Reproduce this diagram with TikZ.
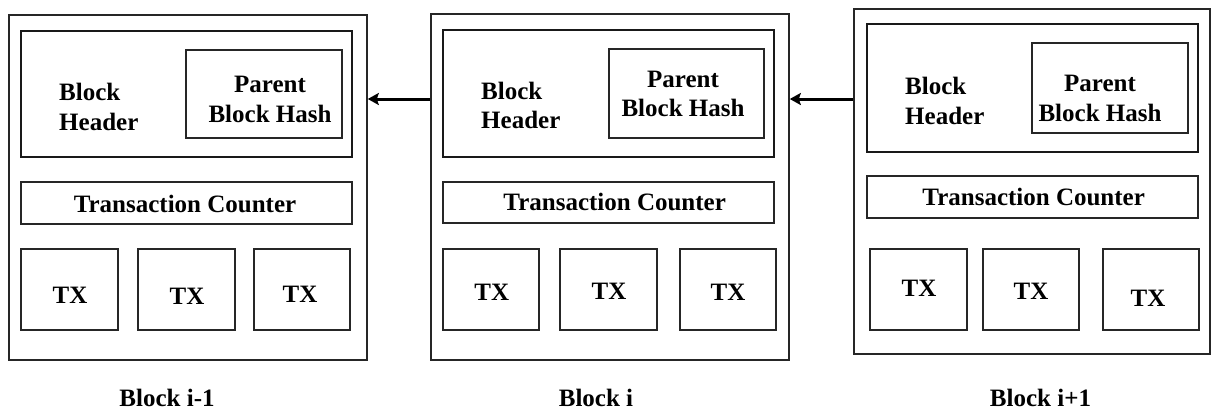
\documentclass[tikz,border=0pt]{standalone}
\usepackage{fontspec}
\setmainfont{Liberation Serif}
\usetikzlibrary{arrows.meta}
\begin{document}
\begin{tikzpicture}[x=1pt,y=-1pt,
  box/.style={draw=black!85, line width=1.6pt, inner sep=0pt, rectangle},
  hbox/.style={draw=black!90, line width=2.3pt, inner sep=0pt, rectangle},
  txt/.style={inner sep=0pt, font=\bfseries\fontsize{25}{29.5}\selectfont},
  ltxt/.style={txt, align=left, anchor=west},
  ctxt/.style={txt, align=center},
  link/.style={line width=3pt, black, -{Stealth[length=11pt, width=12pt, inset=2pt]}}]
\useasboundingbox (0,0) rectangle (1211,410);
\fill[white] (0,0) rectangle (1211,410);

% ---------- Block i-1 ----------
\node[box, minimum width=358pt, minimum height=345pt] (b1) at (188,187.5) {};
\node[hbox, minimum width=331pt, minimum height=126pt] (h1) at (186.5,94) {};
\node[box, minimum width=156pt, minimum height=88pt] (p1) at (264,94) {};
\node[ltxt] (bh1) at (59,107) {Block\\Header};
\node[ctxt] (pt1) at (270,99.5) {Parent\\Block Hash};
\node[box, minimum width=331pt, minimum height=42pt] (c1) at (186.5,203) {};
\node[ctxt] (ct1) at (185,204) {Transaction Counter};
\node[box, minimum width=97pt, minimum height=81pt] (t1a) at (69.5,289.5) {};
\node[box, minimum width=97pt, minimum height=81pt] (t1b) at (186.5,289.5) {};
\node[box, minimum width=96pt, minimum height=81pt] (t1c) at (302,289.5) {};
\node[ctxt] (x1a) at (70,295) {TX};
\node[ctxt] (x1b) at (187,296) {TX};
\node[ctxt] (x1c) at (300,294) {TX};
\node[ctxt] (l1) at (167,398) {Block i-1};

% ---------- Block i ----------
\node[box, minimum width=358pt, minimum height=346pt] (b2) at (610,187) {};
\node[hbox, minimum width=331pt, minimum height=127pt] (h2) at (608.5,93.5) {};
\node[box, minimum width=155pt, minimum height=89pt] (p2) at (686.5,93.5) {};
\node[ltxt] (bh2) at (481,105.5) {Block\\Header};
\node[ctxt] (pt2) at (683,94) {Parent\\Block Hash};
\node[box, minimum width=331pt, minimum height=41pt] (c2) at (608.5,202.5) {};
\node[ctxt] (ct2) at (614.7,202) {Transaction Counter};
\node[box, minimum width=96pt, minimum height=81pt] (t2a) at (491,289.5) {};
\node[box, minimum width=97pt, minimum height=81pt] (t2b) at (608.5,289.5) {};
\node[box, minimum width=96pt, minimum height=81pt] (t2c) at (728,289.5) {};
\node[ctxt] (x2a) at (491.7,292.5) {TX};
\node[ctxt] (x2b) at (609,291) {TX};
\node[ctxt] (x2c) at (728,292) {TX};
\node[ctxt] (l2) at (596,398) {Block i};

% ---------- Block i+1 ----------
\node[box, minimum width=356pt, minimum height=345pt] (b3) at (1032,181.5) {};
\node[hbox, minimum width=331pt, minimum height=128pt] (h3) at (1032.5,88) {};
\node[box, minimum width=156pt, minimum height=90pt] (p3) at (1110,88) {};
\node[ltxt] (bh3) at (905,101) {Block\\Header};
\node[ctxt] (pt3) at (1100,98.5) {Parent\\Block Hash};
\node[box, minimum width=331pt, minimum height=42pt] (c3) at (1032.5,197) {};
\node[ctxt] (ct3) at (1033.7,197) {Transaction Counter};
\node[box, minimum width=97pt, minimum height=81pt] (t3a) at (918.5,289.5) {};
\node[box, minimum width=96pt, minimum height=81pt] (t3b) at (1031,289.5) {};
\node[box, minimum width=96pt, minimum height=81pt] (t3c) at (1151,289.5) {};
\node[ctxt] (x3a) at (919,288.5) {TX};
\node[ctxt] (x3b) at (1031,291.5) {TX};
\node[ctxt] (x3c) at (1148,298) {TX};
\node[ctxt] (l3) at (1040.5,398) {Block i+1};

% ---------- links ----------
\coordinate (s1) at (b2.west |- 0,99);
\coordinate (s2) at (b3.west |- 0,99);
\draw[link] (s1) -- (b1.east |- s1);
\draw[link] (s2) -- (b2.east |- s2);
\end{tikzpicture}
\end{document}
